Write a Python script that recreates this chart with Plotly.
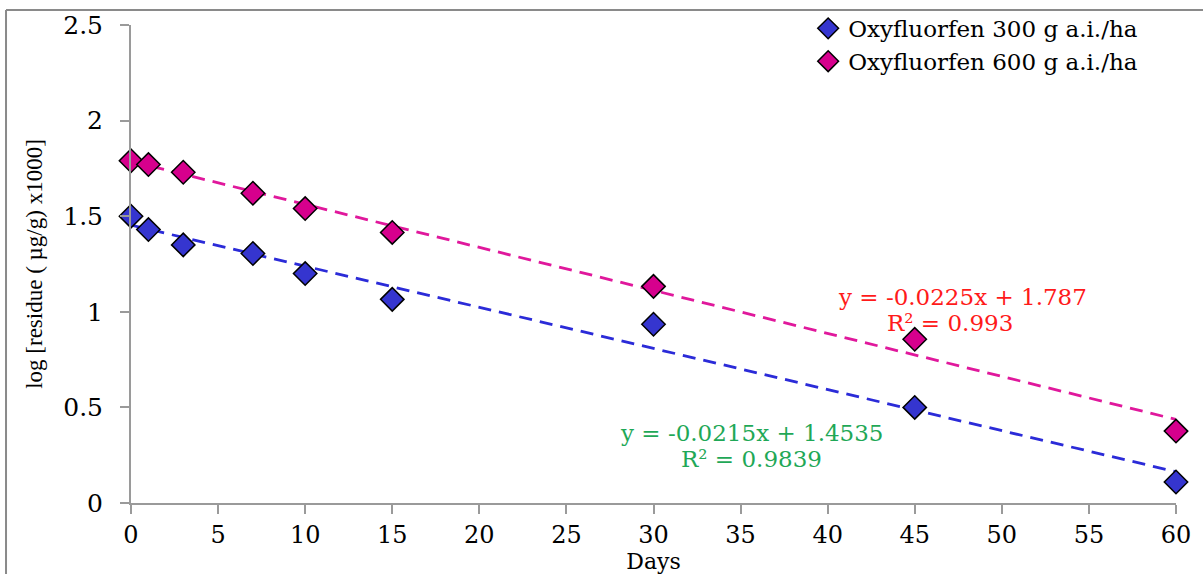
import plotly.graph_objects as go

days = [0, 1, 3, 7, 10, 15, 30, 45, 60]
res_300 = [1.50, 1.43, 1.35, 1.305, 1.20, 1.065, 0.935, 0.50, 0.11]
res_600 = [1.79, 1.77, 1.73, 1.62, 1.54, 1.415, 1.133, 0.856, 0.376]
names = ["Oxyfluorfen 300 g a.i./ha", "Oxyfluorfen 600 g a.i./ha"]
slopes = [-0.0215, -0.0225]
intercepts = [1.4535, 1.787]
eq_lines = [["y = -0.0215x + 1.4535", "R² = 0.9839"], ["y = -0.0225x + 1.787", "R² = 0.993"]]
x_ticks = list(range(0, 61, 5))
y_ticks = [0, 0.5, 1, 1.5, 2, 2.5]
y_ticktext = ["0", "0.5", "1", "1.5", "2", "2.5"]

marker_colors = ["#3535CF", "#D6008D"]
line_colors = ["#2B2BD8", "#E0189C"]
eq_colors = ["#1FA857", "#FF1A1A"]
WIDE = "DejaVu Serif"
TIMES = "Liberation Serif"

fig = go.Figure()
series = [res_300, res_600]
x_fit = [days[0], days[-1]]
for i in range(2):
    fig.add_trace(go.Scatter(
        x=x_fit, y=[slopes[i] * xv + intercepts[i] for xv in x_fit],
        mode="lines", line=dict(color=line_colors[i], width=2.8, dash="13px,8px"),
        showlegend=False, hoverinfo="skip", cliponaxis=False))
for i in range(2):
    fig.add_trace(go.Scatter(
        x=days, y=series[i], mode="markers", name=names[i],
        marker=dict(symbol="diamond", size=18, color=marker_colors[i],
                    line=dict(color="black", width=1.5)),
        cliponaxis=False))

# equation annotations (one per line)
eq_pos = [[(35.65, 0.365), (35.65, 0.230)], [(47.77, 1.075), (47.02, 0.939)]]
for i in range(2):
    for j in range(2):
        fig.add_annotation(x=eq_pos[i][j][0], y=eq_pos[i][j][1], xref="x", yref="y",
                           text=eq_lines[i][j], showarrow=False,
                           font=dict(family=WIDE, size=23, color=eq_colors[i]))

# outer frame (left and top lines)
fig.add_shape(type="line", xref="paper", yref="paper", x0=-0.1196, x1=1.1, y0=1.0314, y1=1.0314,
              line=dict(color="#8a8a8a", width=2))
fig.add_shape(type="line", xref="paper", yref="paper", x0=-0.1196, x1=-0.1196, y0=1.0314, y1=-0.2,
              line=dict(color="#8a8a8a", width=2))

axis_common = dict(showgrid=False, zeroline=False, showline=True, linecolor="#9a9a9a", linewidth=2,
                   ticks="outside", tickcolor="#9a9a9a", tickwidth=2, ticklen=9, automargin=False)
fig.update_xaxes(range=[0, 60], tickvals=x_ticks, ticklabelstandoff=0,
                 tickfont=dict(family=WIDE, size=24, color="black"),
                 title=dict(text="Days", standoff=2,
                            font=dict(family=WIDE, size=22, color="black")), **axis_common)
fig.update_yaxes(range=[0, 2.5], tickvals=y_ticks, ticktext=y_ticktext, ticklabelstandoff=12,
                 tickfont=dict(family=WIDE, size=25, color="black"),
                 title=dict(text="log [residue ( µg/g) x1000]", standoff=14,
                            font=dict(family=TIMES, size=23, color="black")), **axis_common)

fig.update_layout(
    width=1203, height=574,
    margin=dict(l=131, r=27, t=25, b=71, autoexpand=False),
    plot_bgcolor="white", paper_bgcolor="white",
    font=dict(family=WIDE, color="black"),
    legend=dict(x=0.648, xref="paper", y=0.988, yref="container", xanchor="left", yanchor="top",
                font=dict(family=WIDE, size=23, color="black"),
                bgcolor="rgba(0,0,0,0)"),
)

fig.write_html("out.html", config={"displayModeBar": False},
               post_script="document.body.style.margin='0';")
